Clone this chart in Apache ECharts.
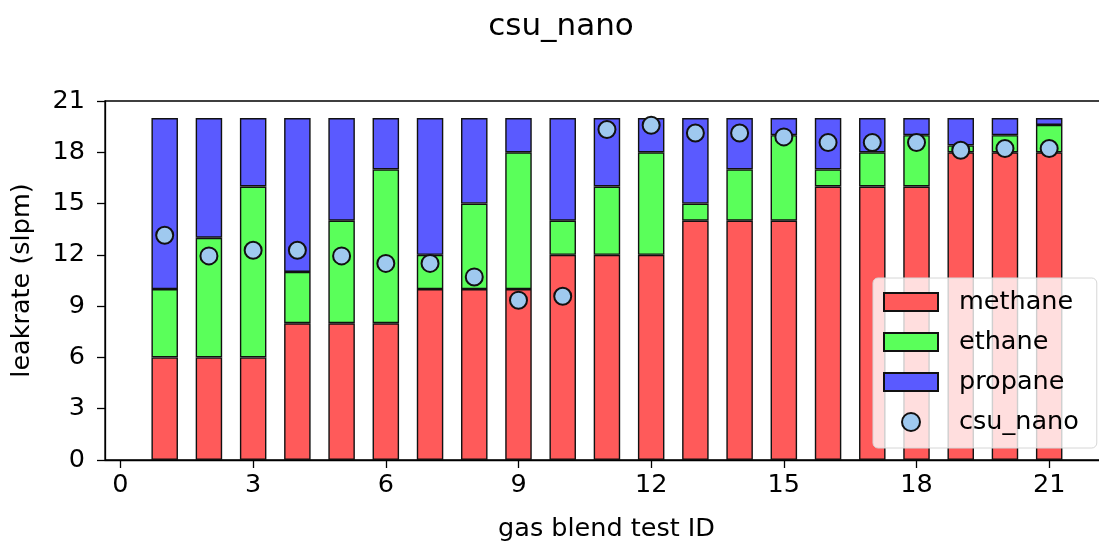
<!DOCTYPE html>
<html>
<head>
<meta charset="utf-8">
<script src="https://cdn.jsdelivr.net/npm/echarts@6/dist/echarts.min.js"></script>
<style>
  html, body { margin: 0; padding: 0; background: #fff; }
  #chart { width: 1099px; height: 541px; }
</style>
</head>
<body>
<div id="chart"></div>
<script>
// Gas blend test IDs and composition of each blend (slpm)
const testIds = [1, 2, 3, 4, 5, 6, 7, 8, 9, 10, 11, 12, 13, 14, 15, 16, 17, 18, 19, 20, 21];
const methane = [6, 6, 6, 8, 8, 8, 10, 10, 10, 12, 12, 12, 14, 14, 14, 16, 16, 16, 18, 18, 18];
const ethane  = [4, 7, 10, 3, 6, 9, 2, 5, 8, 2, 4, 6, 1, 3, 5, 1, 2, 3, 0.4, 1, 1.6];
const propane = [10, 7, 4, 9, 6, 3, 8, 5, 2, 6, 4, 2, 5, 3, 1, 3, 2, 1, 1.6, 1, 0.4];
// Measured leak rate from the csu_nano sensor
const csuNano = [13.15, 11.94, 12.27, 12.27, 11.94, 11.5, 11.5, 10.71, 9.35, 9.58,
                 19.33, 19.58, 19.13, 19.13, 18.9, 18.57, 18.57, 18.57, 18.12, 18.22, 18.22];
const xTicks = [0, 3, 6, 9, 12, 15, 18, 21];
const yTicks = [0, 3, 6, 9, 12, 15, 18, 21];

const FONT = 'DejaVu Sans';
// Rows are [value, id] so that stacking accumulates the leak-rate dimension
const stackRows = (vals) => testIds.map((id, i) => [vals[i], id]);

const barStyle = (color) => ({
  color: color,
  borderColor: '#111',
  borderWidth: 1.4
});

const barSeries = (name, vals, color) => ({
  name: name,
  type: 'bar',
  stack: 'blend',
  barWidth: 26.5,
  encode: { x: 1, y: 0 },
  data: stackRows(vals),
  itemStyle: barStyle(color)
});

const chart = echarts.init(document.getElementById('chart'), null, { renderer: 'canvas' });

chart.setOption({
  animation: false,
  backgroundColor: '#ffffff',
  textStyle: { fontFamily: FONT },
  title: {
    text: 'csu_nano',
    left: 556,
    textAlign: 'center',
    top: 6,
    textStyle: { fontFamily: FONT, fontSize: 31, fontWeight: 'normal', color: '#000' }
  },
  grid: {
    left: 105, right: -9, top: 101, bottom: 81,
    outerBoundsMode: 'none',
    containLabel: false,
    show: true, borderColor: '#000', borderWidth: 1.3, backgroundColor: 'transparent'
  },
  xAxis: {
    type: 'value',
    min: -0.35,
    max: 22.33,
    name: 'gas blend test ID',
    nameLocation: 'middle',
    nameGap: 56,
    nameTextStyle: { fontFamily: FONT, fontSize: 25.5, color: '#000' },
    splitLine: { show: false },
    axisLine: { show: true, onZero: false, lineStyle: { color: '#000', width: 1.3 } },
    axisTick: { show: true, length: 8, customValues: xTicks, lineStyle: { color: '#000', width: 1.3 } },
    axisLabel: { customValues: xTicks, margin: 12, fontFamily: FONT, fontSize: 25.5, color: '#000' }
  },
  yAxis: {
    type: 'value',
    min: 0,
    max: 21,
    interval: 3,
    name: 'leakrate (slpm)',
    nameLocation: 'middle',
    nameGap: 70,
    nameTextStyle: { fontFamily: FONT, fontSize: 25.5, color: '#000' },
    splitLine: { show: false },
    axisLine: { show: true, onZero: false, lineStyle: { color: '#000', width: 1.3 } },
    axisTick: { show: true, length: 8, customValues: yTicks, lineStyle: { color: '#000', width: 1.3 } },
    axisLabel: { customValues: yTicks, margin: 20, fontFamily: FONT, fontSize: 25.5, color: '#000' }
  },
  legend: {
    orient: 'vertical',
    left: 873,
    top: 278,
    padding: [11, 18, 13, 10],
    itemWidth: 54,
    itemHeight: 18,
    itemGap: 14,
    backgroundColor: 'rgba(255,255,255,0.8)',
    borderColor: '#d6d6d6',
    borderWidth: 1,
    borderRadius: 5,
    textStyle: { fontFamily: FONT, fontSize: 25.5, color: '#000', lineHeight: 26, padding: [0, 0, 0, 16] },
    data: [
      { name: 'methane', icon: 'rect' },
      { name: 'ethane', icon: 'rect' },
      { name: 'propane', icon: 'rect' },
      { name: 'csu_nano', icon: 'circle' }
    ]
  },
  series: [
    barSeries('methane', methane, '#ff5a5a'),
    barSeries('ethane', ethane, '#5aff5a'),
    barSeries('propane', propane, '#5a5aff'),
    {
      name: 'csu_nano', type: 'scatter', z: 5,
      symbol: 'circle', symbolSize: 17,
      data: testIds.map((id, i) => [id, csuNano[i]]),
      itemStyle: { color: '#9fc9ef', borderColor: '#111', borderWidth: 2, opacity: 1 }
    }
  ]
});
</script>
</body>
</html>
